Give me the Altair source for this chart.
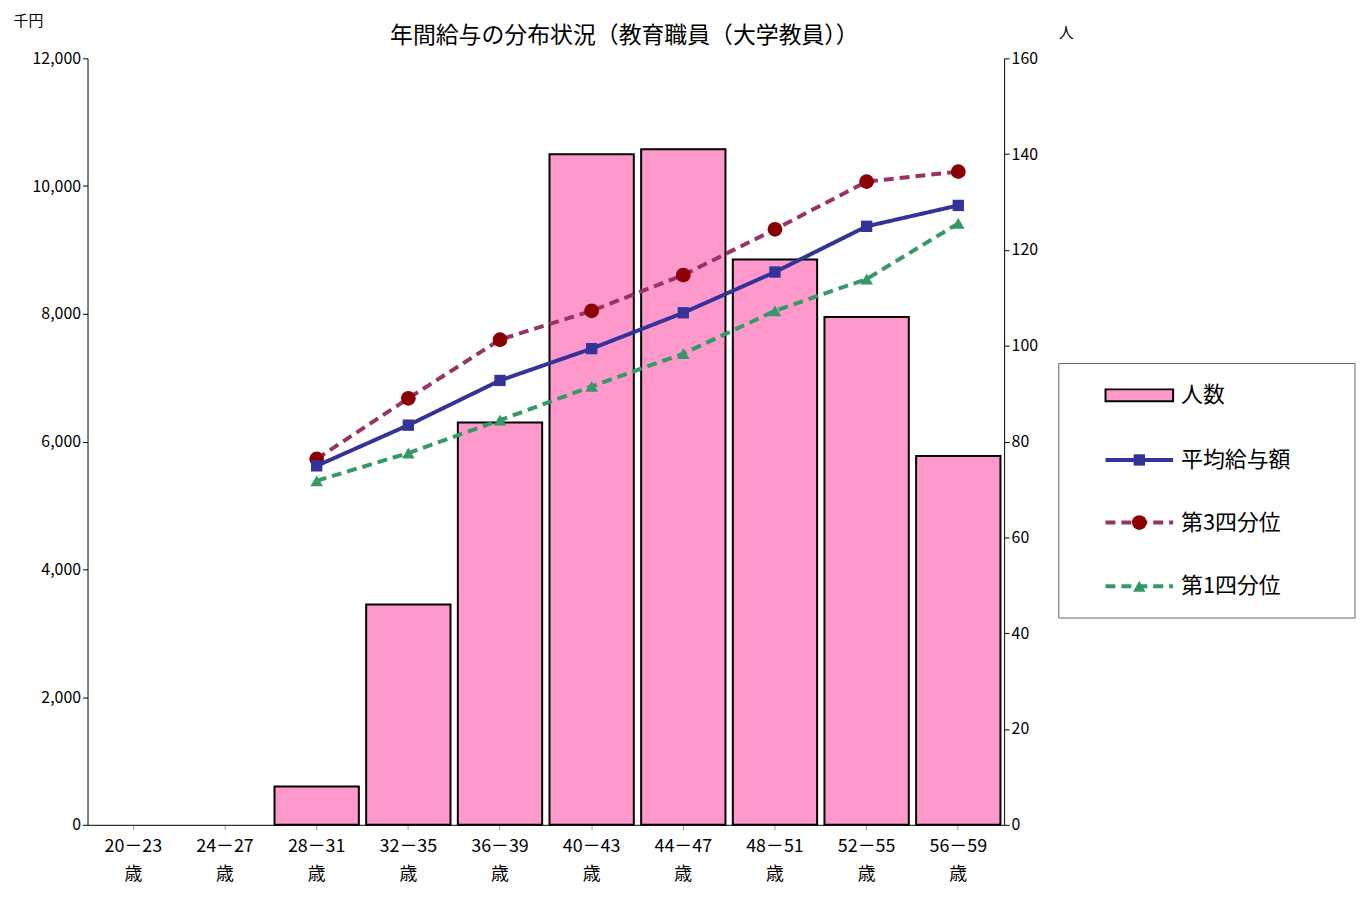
import altair as alt
import pandas as pd

ages = ["20－23\n歳","24－27\n歳","28－31\n歳","32－35\n歳","36－39\n歳","40－43\n歳","44－47\n歳","48－51\n歳","52－55\n歳","56－59\n歳"]
people = [None, None, 8, 46, 84, 140, 141, 118, 106, 77]
mean_pay = [None, None, 5620, 6257, 6957, 7455, 8016, 8654, 9370, 9697]
q3_pay = [None, None, 5728, 6677, 7595, 8047, 8607, 9323, 10070, 10226]
q1_pay = [None, None, 5385, 5821, 6335, 6864, 7377, 8047, 8545, 9416]

df = pd.DataFrame({"age": ages, "people": people, "mean": mean_pay, "q3": q3_pay, "q1": q1_pay})
FONT = "Noto Sans CJK JP"
xenc = alt.X("age:N", sort=ages, title=None,
             scale=alt.Scale(paddingInner=0.08, paddingOuter=0.04),
             axis=alt.Axis(labelAngle=0, labelFontSize=18, labelColor="black", labelExpr="split(datum.label, '\\n')",
                           labelLineHeight=28, domainColor="black", tickColor="#999", labelFont=FONT, labelPadding=8))

bars = alt.Chart(df).mark_bar(fill="#ff99cc", stroke="black", strokeWidth=2).encode(
    x=xenc,
    y=alt.Y("people:Q", scale=alt.Scale(domain=[0, 160]),
            axis=alt.Axis(orient="right", values=list(range(0, 161, 20)), grid=False, title="人",
                          titleAngle=0, titleX=62, titleY=-18, titleFontWeight="normal", titleFontSize=15,
                          labelFontSize=16, labelColor="black", domainColor="black", tickColor="black", labelFont=FONT, titleFont=FONT))
)

def line(field, color, dash, shape, size):
    return alt.Chart(df).mark_line(color=color, strokeWidth=4, strokeDash=dash,
                                   point=alt.OverlayMarkDef(shape=shape, size=size, filled=True, color=("#8b0000" if shape == "circle" else color), opacity=1)).encode(
        x=alt.X("age:N", sort=ages),
        y=alt.Y(f"{field}:Q", scale=alt.Scale(domain=[0, 12000]),
                axis=alt.Axis(values=list(range(0, 12001, 2000)), format=",.0f", gridColor="#f5f5c8", title="千円",
                              titleAngle=0, titleX=-60, titleY=-30, titleFontWeight="normal", titleFontSize=15,
                              labelFontSize=16, labelColor="black", domainColor="black", tickColor="black", labelFont=FONT, titleFont=FONT))
    )

lines = alt.layer(
    line("q3", "#993366", [10, 6], "circle", 220),
    line("q1", "#339966", [10, 6], "triangle-up", 160),
    line("mean", "#333399", [1, 0], "square", 130),
)

one = pd.DataFrame({"a": [0]})
base = alt.Chart(one)
title = base.mark_text(text="年間給与の分布状況（教育職員（大学教員））", fontSize=23, font=FONT, color="black").encode(
    x=alt.value(540), y=alt.value(-22))
box = base.mark_rect(fill="white", stroke="#666", strokeWidth=1).encode(
    x=alt.value(977), x2=alt.value(1275), y=alt.value(307), y2=alt.value(563))
swatch = base.mark_rect(fill="#ff99cc", stroke="black", strokeWidth=2).encode(
    x=alt.value(1024), x2=alt.value(1092), y=alt.value(333), y2=alt.value(345))
leg = [swatch]
for yy, col, dash, shape, sz, pc in [(404, "#333399", [1, 0], "square", 130, "#333399"),
                                  (467, "#993366", [10, 6], "circle", 220, "#8b0000"),
                                  (531, "#339966", [10, 6], "triangle-up", 160, "#339966")]:
    leg.append(base.mark_rule(color=col, strokeWidth=4, strokeDash=dash).encode(
        x=alt.value(1024), x2=alt.value(1092), y=alt.value(yy)))
    leg.append(base.mark_point(shape=shape, size=sz, filled=True, color=pc, opacity=1).encode(
        x=alt.value(1058), y=alt.value(yy)))
texts = []
for yy, t in [(339, "人数"), (404, "平均給与額"), (467, "第3四分位"), (531, "第1四分位")]:
    texts.append(base.mark_text(text=t, align="left", fontSize=22, font=FONT, color="black").encode(
        x=alt.value(1100), y=alt.value(yy)))

chart = alt.layer(bars, lines).resolve_scale(y="independent")
chart = alt.layer(chart, title, box, *leg, *texts).properties(
    width=922, height=771,
    autosize=alt.AutoSizeParams(type="none"),
    padding={"left": 80, "top": 48, "right": 360, "bottom": 70},
).configure_view(stroke=None)

chart.save("out.html", embed_options={"renderer": "svg", "actions": False})
